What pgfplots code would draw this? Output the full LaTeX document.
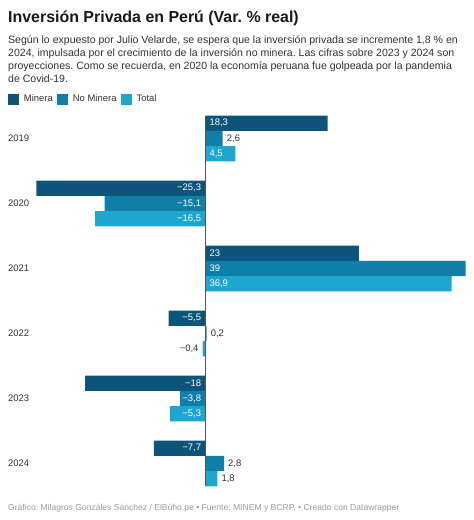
\documentclass[border=0pt]{standalone}
\usepackage{pgfplots}
\pgfplotsset{compat=1.18}
\usepackage{fontspec}
\setmainfont{Liberation Sans}
\frenchspacing
\definecolor{cMin}{HTML}{0C5479}
\definecolor{cNoM}{HTML}{0F7EA8}
\definecolor{cTot}{HTML}{1EA5D0}
\definecolor{txt}{HTML}{333333}
\definecolor{foot}{HTML}{9A9A9A}
\definecolor{zero}{HTML}{555555}
\pgfplotsset{
  sqleg/.style={legend image code/.code={\path[##1] (0bp,-5.5bp) rectangle (11bp,5.5bp);}},
  mybar/.style={xbar, bar width=15.2bp, bar shift=0pt, draw=none, sqleg},
}
\begin{document}
\begin{tikzpicture}[x=1bp,y=1bp]
\useasboundingbox (0,0) rectangle (474,520);
% title & subtitle
\node[anchor=base west, inner sep=0, font=\bfseries\fontsize{16}{19}\selectfont, text=black!90] at (8,497.5) {Inversión Privada en Perú (Var. \% real)};
\foreach \ln/\yb in {{Según lo expuesto por Julio Velarde, se espera que la inversión privada se incremente 1,8 \% en}/476,
  {2024, impulsada por el crecimiento de la inversión no minera. Las cifras sobre 2023 y 2024 son}/463,
  {proyecciones. Como se recuerda, en 2020 la economía peruana fue golpeada por la pandemia}/450,
  {de Covid-19.}/437}{
  \node[anchor=base west, inner sep=0, font=\fontsize{10.6}{13}\selectfont, text=txt] at (8,\yb) {\ln};
}
% footer
\node[anchor=base west, inner sep=0, font=\fontsize{8.6}{10}\selectfont, text=foot] at (8,9) {Gráfico: Milagros Gonzáles Sánchez / ElBúho.pe • Fuente: MINEM y BCRP. • Creado con Datawrapper};
% year labels
\foreach \yr/\yy in {2019/138.5,2020/203.5,2021/268.5,2022/333.5,2023/398.5,2024/463.5}{
  \node[anchor=base west, inner sep=0, font=\fontsize{9.5}{11}\selectfont, text=txt] at (8,520-\yy-3.4) {\yr};
}
\begin{axis}[
  at={(36.4bp,33.7bp)}, anchor=south west,
  scale only axis, width=429.3bp, height=370.3bp,
  xmin=-25.3, xmax=39, ymin=-0.351, ymax=5.346,
  axis line style={draw=none}, xtick=\empty, ytick=\empty,
  clip=false,
  legend style={at={(-0.0662,1.062)}, anchor=north west, draw=none, fill=none,
    inner sep=0pt, outer sep=0pt, legend columns=3,
    font=\fontsize{9.5}{11}\selectfont, text=txt,
    /tikz/every odd column/.append style={column sep=3bp},
    /tikz/every even column/.append style={column sep=2bp}},
  legend cell align=left,
]
\addplot[mybar, fill=cMin]
  coordinates {(18.3,5.234) (-25.3,4.234) (23,3.234) (-5.5,2.234) (-18,1.234) (-7.7,0.234)};
\addlegendentry{Minera}
\addplot[mybar, fill=cNoM]
  coordinates {(2.6,5) (-15.1,4) (39,3) (0.2,2) (-3.8,1) (2.8,0)};
\addlegendentry{No Minera}
\addplot[mybar, fill=cTot]
  coordinates {(4.5,4.766) (-16.5,3.766) (36.9,2.766) (-0.4,1.766) (-5.3,0.766) (1.8,-0.234)};
\addlegendentry{Total}
% zero line
\draw[zero, line width=0.9bp] (axis cs:0,-0.351) -- (axis cs:0,5.346);
% labels inside, positive
\addplot[forget plot, draw=none, mark=none, point meta=explicit symbolic, nodes near coords,
  nodes near coords style={anchor=west, text=white, inner sep=0pt, xshift=4bp, font=\fontsize{9.5}{11}\selectfont}]
  coordinates {(0,5.234) [{18,3}] (0,4.766) [{4,5}] (0,3.234) [{23}] (0,3) [{39}] (0,2.766) [{36,9}]};
% labels inside, negative
\addplot[forget plot, draw=none, mark=none, point meta=explicit symbolic, nodes near coords,
  nodes near coords style={anchor=east, text=white, inner sep=0pt, xshift=-4bp, font=\fontsize{9.5}{11}\selectfont}]
  coordinates {(0,4.234) [{−25,3}] (0,4) [{−15,1}] (0,3.766) [{−16,5}] (0,2.234) [{−5,5}] (0,1.234) [{−18}] (0,1) [{−3,8}] (0,0.766) [{−5,3}] (0,0.234) [{−7,7}]};
% labels outside, positive
\addplot[forget plot, draw=none, mark=none, point meta=explicit symbolic, nodes near coords,
  nodes near coords style={anchor=west, text=txt, inner sep=0pt, xshift=4bp, font=\fontsize{9.5}{11}\selectfont}]
  coordinates {(2.6,5) [{2,6}] (0.2,2) [{0,2}] (2.8,0) [{2,8}] (1.8,-0.234) [{1,8}]};
% labels outside, negative
\addplot[forget plot, draw=none, mark=none, point meta=explicit symbolic, nodes near coords,
  nodes near coords style={anchor=east, text=txt, inner sep=0pt, xshift=-4bp, font=\fontsize{9.5}{11}\selectfont}]
  coordinates {(-0.4,1.766) [{−0,4}]};
\end{axis}
\end{tikzpicture}
\end{document}
